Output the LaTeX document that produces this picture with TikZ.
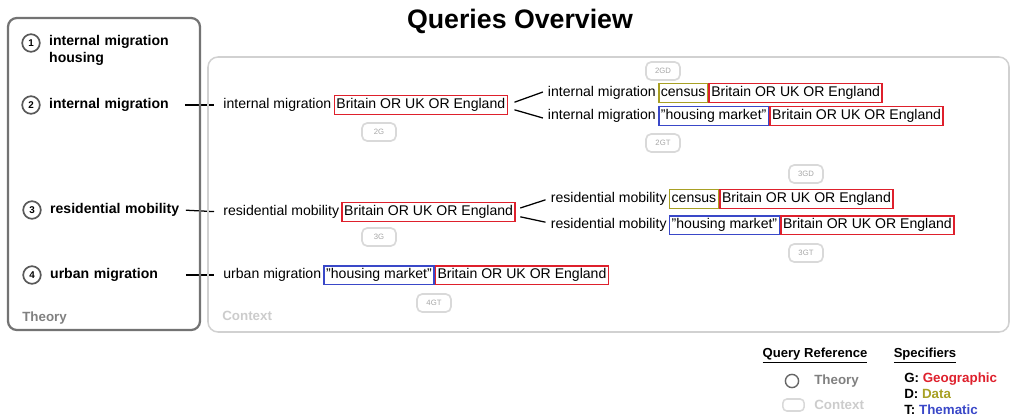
\documentclass[tikz,border=0pt]{standalone}
\usepackage{fontspec}
\setmainfont{Liberation Sans}
\usetikzlibrary{positioning}

\definecolor{geo}{RGB}{222,32,44}
\definecolor{dat}{RGB}{168,160,36}
\definecolor{them}{RGB}{58,72,200}

\begin{document}
\begin{tikzpicture}[x=0.025cm, y=-0.025cm, node distance=0.4mm,
    theory_circle/.style={circle, draw=black!65, line width=1.2pt, minimum size=4.4mm, inner sep=0, font=\fontsize{7}{7}\selectfont\bfseries},
    theory_text/.style={anchor=west, text width=3.25cm, align=left, inner sep=1pt, font=\fontsize{10}{12.5}\selectfont\bfseries},
    query/.style={inner xsep=1pt, inner ysep=1.8pt, text height=7.5pt, text depth=2.1pt, outer sep=0, font=\fontsize{10}{12}\selectfont},
    spec_box/.style={query, line width=1.1pt, inner xsep=1.5pt},
    geo_box/.style={spec_box, draw=geo},
    data_box/.style={spec_box, draw=dat},
    them_box/.style={spec_box, draw=them},
    ref_tag/.style={draw=black!15, line width=1.2pt, rounded corners=1.3mm, minimum width=8.5mm, minimum height=4.5mm, inner sep=0, text=black!35, font=\fontsize{5.5}{6}\selectfont},
    link/.style={line width=0.9pt, black},
    legend_head/.style={font=\fontsize{9.3}{11}\selectfont\bfseries},
    legend_item/.style={anchor=west, inner sep=0, font=\fontsize{9.5}{11}\selectfont\bfseries}]
    \useasboundingbox (0,0) rectangle (1011,416);

    \node[font=\fontsize{19}{23}\selectfont\bfseries] (title) at (520,21) {Queries Overview};

    % theory terms
    \node[theory_circle] (c1) at (31,43) {1};
    \node[theory_circle] (c2) at (31,105) {2};
    \node[theory_circle] (c3) at (32,210) {3};
    \node[theory_circle] (c4) at (32,275) {4};
    \node[theory_text] (t1) at (47.5,50.5) {internal migration\\housing};
    \node[theory_text] (t2) at (47.5,105) {internal migration};
    \node[theory_text] (t3) at (48.5,210) {residential mobility};
    \node[theory_text] (t4) at (48.5,275) {urban migration};

    % context queries, level 1
    \node[query, anchor=west] (q2) at (222,105) {internal migration};
    \node[geo_box, right=of q2] (q2g) {Britain OR UK OR England};
    \node[query, anchor=west] (q3) at (222,212) {residential mobility};
    \node[geo_box, right=of q3] (q3g) {Britain OR UK OR England};
    \node[query, anchor=west] (q4) at (222,275) {urban migration};
    \node[them_box, right=of q4] (q4t) {"housing market"};
    \node[geo_box, right=of q4t] (q4g) {Britain OR UK OR England};

    % context queries, level 2
    \node[query, anchor=west] (q2a) at (546.5,93) {internal migration};
    \node[data_box, right=of q2a] (q2ad) {census};
    \node[geo_box, right=of q2ad] (q2ag) {Britain OR UK OR England};
    \node[query, anchor=west] (q2b) at (546.5,116) {internal migration};
    \node[them_box, right=of q2b] (q2bt) {"housing market"};
    \node[geo_box, right=of q2bt] (q2bg) {Britain OR UK OR England};
    \node[query, anchor=west] (q3a) at (549.5,199) {residential mobility};
    \node[data_box, right=of q3a] (q3ad) {census};
    \node[geo_box, right=of q3ad] (q3ag) {Britain OR UK OR England};
    \node[query, anchor=west] (q3b) at (549.5,225) {residential mobility};
    \node[them_box, right=of q3b] (q3bt) {"housing market"};
    \node[geo_box, right=of q3bt] (q3bg) {Britain OR UK OR England};

    % reference tags
    \node[ref_tag] (r2g) at (379,132) {2G};
    \node[ref_tag] (r2gd) at (663,71) {2GD};
    \node[ref_tag] (r2gt) at (663,143) {2GT};
    \node[ref_tag] (r3g) at (379,237) {3G};
    \node[ref_tag] (r3gd) at (806,174) {3GD};
    \node[ref_tag] (r3gt) at (806,253) {3GT};
    \node[ref_tag] (r4gt) at (434,303) {4GT};

    % links
    \draw[link, shorten <=1mm, shorten >=2mm] (t2.east) -- (q2.west);
    \draw[link, shorten <=1mm, shorten >=2mm] (t3.east) -- (q3.west);
    \draw[link, shorten <=1mm, shorten >=2mm] (t4.east) -- (q4.west);
    \draw[link] ([xshift=1.8mm, yshift=0.7mm]q2g.east) -- ([xshift=-0.9mm, yshift=0.25mm]q2a.west);
    \draw[link] ([xshift=1.8mm, yshift=-1.2mm]q2g.east) -- ([xshift=-0.9mm, yshift=-0.5mm]q2b.west);
    \draw[link] ([xshift=1.3mm, yshift=1mm]q3g.east) -- ([xshift=-1mm, yshift=-0.2mm]q3a.west);
    \draw[link] ([xshift=1.3mm, yshift=-1.2mm]q3g.east) -- ([xshift=-1mm, yshift=0.7mm]q3b.west);

    % group frames
    \draw[black!55, line width=1.6pt, rounded corners=2.2mm] (8,18) rectangle (200,330);
    \draw[black!18, line width=1.1pt, rounded corners=2.5mm] (208,57) rectangle (1009,332);
    \node[anchor=west, inner sep=0, text=black!50, font=\fontsize{9.5}{11}\selectfont\bfseries] (lbl_theory) at (22,318) {Theory};
    \node[anchor=west, inner sep=0, text=black!20, font=\fontsize{9.5}{11}\selectfont\bfseries] (lbl_context) at (222,316) {Context};

    % legend
    \node[legend_head] (lg_ref) at (815,356) {\underline{Query Reference}};
    \node[legend_head] (lg_spec) at (925,356) {\underline{Specifiers}};
    \node[circle, draw=black!60, line width=1pt, minimum size=3.3mm, inner sep=0] (lg_circ) at (792,381) {};
    \node[legend_item, text=black!50] (lg_theory) at (814,381) {Theory};
    \node[draw=black!15, line width=1.1pt, rounded corners=1mm, minimum width=5.3mm, minimum height=3mm, inner sep=0] (lg_tag) at (793.5,405) {};
    \node[legend_item, text=black!20] (lg_context) at (814,405) {Context};
    \node[legend_item] (lg_g) at (904,379) {G: \textcolor{geo}{Geographic}};
    \node[legend_item] (lg_d) at (904,394) {D: \textcolor{dat}{Data}};
    \node[legend_item] (lg_t) at (904,410) {T: \textcolor{them}{Thematic}};
\end{tikzpicture}
\end{document}
